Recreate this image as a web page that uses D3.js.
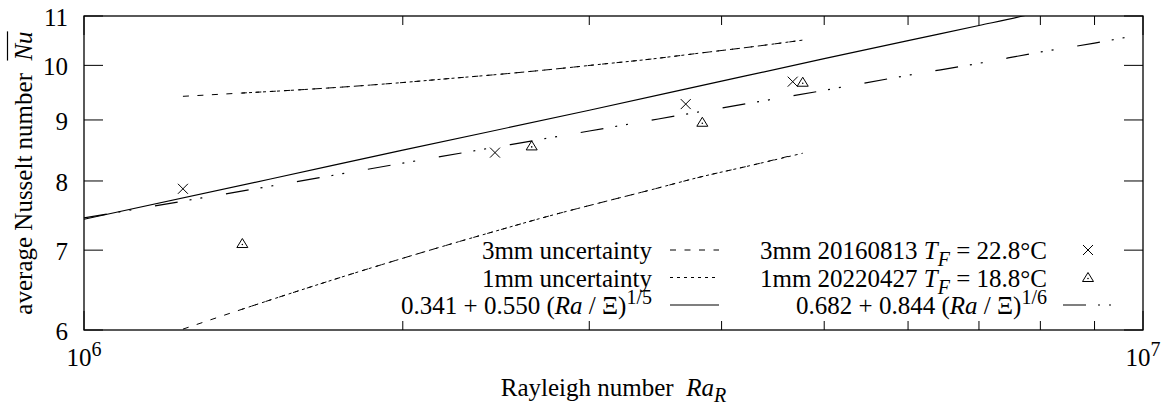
<!DOCTYPE html>
<html><head><meta charset="utf-8">
<script src="https://cdn.jsdelivr.net/npm/d3@7"></script>
<style>
body{margin:0;background:#fff}
svg{display:block}
text{font-family:"Liberation Serif","Times New Roman",serif;white-space:pre;fill:#000}
</style>
</head><body>
<svg id="c" width="1166" height="406"></svg>
<script>
// ---- data ----
const xDomain = [1e6, 1e7];
const yDomain = [6, 11];
const yTicks = [6, 7, 8, 9, 10, 11];
const xMajorTicks = [1e6, 1e7];
const xMajorExp = ["6", "7"];
const xMinorTicks = [2e6, 3e6, 4e6, 5e6, 6e6, 7e6, 8e6, 9e6];

// 3mm 20160813 measurements (x markers)
const ra3mm = [1.240e6, 2.444e6, 3.700e6, 4.669e6];
const nu3mm = [7.88, 8.45, 9.28, 9.69];
// 1mm 20220427 measurements (triangle markers)
const ra1mm = [1.411e6, 2.647e6, 3.836e6, 4.772e6];
const nu1mm = [7.09, 8.56, 8.96, 9.68];

// correlation 0.341 + 0.550 (Ra/Xi)^(1/5)
const fit5Ra = [1e6, 1.5e6, 2e6, 3e6, 4e6, 5e6, 6e6, 7e6, 7.7e6, 8e6];
const fit5Nu = [7.43, 8.03, 8.49, 9.17, 9.70, 10.13, 10.49, 10.80, 11.0, 11.09];
// correlation 0.682 + 0.844 (Ra/Xi)^(1/6)
const fit6Ra = [1e6, 1.5e6, 2e6, 3e6, 4e6, 5e6, 6e6, 7e6, 8e6, 9e6, 1e7];
const fit6Nu = [7.45, 7.92, 8.28, 8.81, 9.21, 9.53, 9.81, 10.04, 10.26, 10.44, 10.62];

// 3mm uncertainty band
const unc3UpRa = [1.240e6, 1.410e6, 1.600e6, 1.784e6, 1.988e6, 2.216e6, 2.471e6, 2.754e6, 3.071e6, 3.423e6, 3.816e6, 4.255e6, 4.70e6];
const unc3UpNu = [9.42, 9.48, 9.54, 9.60, 9.67, 9.75, 9.83, 9.92, 10.02, 10.12, 10.24, 10.36, 10.48];
const unc3LoRa = [1.240e6, 1.410e6, 1.600e6, 1.784e6, 1.988e6, 2.216e6, 2.471e6, 2.754e6, 3.071e6, 3.423e6, 3.816e6, 4.255e6, 4.70e6];
const unc3LoNu = [6.01, 6.245, 6.478, 6.68, 6.88, 7.08, 7.28, 7.48, 7.67, 7.86, 8.06, 8.24, 8.42];
// 1mm uncertainty band
const unc1UpRa = [1.410e6, 1.600e6, 1.784e6, 1.988e6, 2.216e6, 2.471e6, 2.754e6, 3.071e6, 3.423e6, 3.816e6, 4.255e6, 4.772e6];
const unc1UpNu = [9.48, 9.54, 9.60, 9.67, 9.75, 9.83, 9.92, 10.02, 10.12, 10.24, 10.36, 10.50];
const unc1LoRa = [1.410e6, 1.600e6, 1.784e6, 1.988e6, 2.216e6, 2.471e6, 2.754e6, 3.071e6, 3.423e6, 3.816e6, 4.255e6, 4.772e6];
const unc1LoNu = [6.245, 6.478, 6.68, 6.88, 7.08, 7.28, 7.48, 7.67, 7.86, 8.06, 8.24, 8.44];

// ---- layout ----
const L = 84, R = 1143, T = 16, B = 330;
const FS = 25, SFS = 20;
const svg = d3.select("#c");
const x = d3.scaleLog().domain(xDomain).range([L, R]);
const y = d3.scaleLog().domain(yDomain).range([B, T]);

svg.append("defs").append("clipPath").attr("id", "clip")
  .append("rect").attr("x", L).attr("y", T).attr("width", R - L).attr("height", B - T);

function rich(g, px, py, parts, anchor, subShift) {
  const t = g.append("text").attr("x", px).attr("y", py)
    .attr("text-anchor", anchor).attr("font-size", FS);
  let cur = 0;
  parts.forEach(p => {
    const shift = p.sub ? (subShift || 7) : p.sup ? -10 : 0;
    const ts = t.append("tspan").text(p.t).attr("dy", shift - cur);
    cur = shift;
    if (p.i) ts.attr("font-style", "italic");
    if (p.sub || p.sup) ts.attr("font-size", SFS);
  });
  return t;
}

// ticks
const tk = svg.append("g").attr("stroke", "#000").attr("stroke-width", 1);
yTicks.forEach(v => {
  tk.append("line").attr("x1", L).attr("x2", L + 19).attr("y1", y(v)).attr("y2", y(v));
  tk.append("line").attr("x1", R - 19).attr("x2", R).attr("y1", y(v)).attr("y2", y(v));
});
xMinorTicks.forEach(v => {
  tk.append("line").attr("x1", x(v)).attr("x2", x(v)).attr("y1", B).attr("y2", B - 9);
  tk.append("line").attr("x1", x(v)).attr("x2", x(v)).attr("y1", T).attr("y2", T + 9);
});
xMajorTicks.forEach(v => {
  tk.append("line").attr("x1", x(v)).attr("x2", x(v)).attr("y1", B).attr("y2", B - 19);
  tk.append("line").attr("x1", x(v)).attr("x2", x(v)).attr("y1", T).attr("y2", T + 19);
});

// frame
svg.append("rect").attr("x", L).attr("y", T).attr("width", R - L).attr("height", B - T)
  .attr("fill", "none").attr("stroke", "#000").attr("stroke-width", 1.3);

// tick labels
yTicks.forEach(v => {
  svg.append("text").attr("x", 68).attr("y", y(v) + 10).attr("text-anchor", "end")
    .attr("font-size", FS).text(v);
});
xMajorTicks.forEach((v, i) => {
  rich(svg, x(v), 366, [{t: "10"}, {t: xMajorExp[i], sup: true}], "middle");
});

// curves
const plot = svg.append("g").attr("clip-path", "url(#clip)");
const line = d3.line().x(d => x(d[0])).y(d => y(d[1])).curve(d3.curveMonotoneX);
function curve(ra, nu, dash, w) {
  plot.append("path").datum(ra.map((r, i) => [r, nu[i]])).attr("d", line)
    .attr("fill", "none").attr("stroke", "#000").attr("stroke-width", w)
    .attr("stroke-dasharray", dash);
}
const DASH3 = "6,8.5", DASH1 = "3,4", DASHDD = "23,12,2,9,2,24";
curve(unc3UpRa, unc3UpNu, DASH3, 1);
curve(unc3LoRa, unc3LoNu, DASH3, 1);
curve(unc1UpRa, unc1UpNu, DASH1, 1);
curve(unc1LoRa, unc1LoNu, DASH1, 1);
curve(fit5Ra, fit5Nu, null, 1.2);
curve(fit6Ra, fit6Nu, DASHDD, 1.2);

// markers
function cross(g, cx, cy) {
  const s = 5;
  g.append("path").attr("d", `M${cx - s},${cy - s}L${cx + s},${cy + s}M${cx - s},${cy + s}L${cx + s},${cy - s}`)
    .attr("stroke", "#000").attr("stroke-width", 1).attr("fill", "none");
}
function tri(g, cx, cy) {
  g.append("path").attr("d", `M${cx},${cy - 5}L${cx + 5.5},${cy + 4}L${cx - 5.5},${cy + 4}Z`)
    .attr("stroke", "#000").attr("stroke-width", 1).attr("fill", "none");
  g.append("circle").attr("cx", cx).attr("cy", cy + 1).attr("r", 0.8).attr("fill", "#000");
}
ra3mm.forEach((r, i) => cross(svg, x(r), y(nu3mm[i])));
ra1mm.forEach((r, i) => tri(svg, x(r), y(nu1mm[i])));

// legend
const lg = svg.append("g");
const rowY = [250, 277.5, 305];
const c1Text = 652, c1S0 = 670, c1S1 = 719;
const c2Text = 1047, c2S0 = 1063, c2S1 = 1113;
function sample(x0, x1, yy, dash) {
  lg.append("line").attr("x1", x0).attr("x2", x1).attr("y1", yy).attr("y2", yy)
    .attr("stroke", "#000").attr("stroke-width", 1.2).attr("stroke-dasharray", dash);
}
rich(lg, c1Text, rowY[0] + 9, [{t: "3mm uncertainty"}], "end");
sample(c1S0, c1S1, rowY[0], DASH3);
rich(lg, c1Text, rowY[1] + 9, [{t: "1mm uncertainty"}], "end");
sample(c1S0, c1S1, rowY[1], DASH1);
rich(lg, c1Text, rowY[2] + 9, [{t: "0.341 + 0.550 ("}, {t: "Ra", i: true}, {t: " / Ξ)"}, {t: "1/5", sup: true}], "end");
sample(c1S0, c1S1, rowY[2], null);

rich(lg, c2Text, rowY[0] + 9, [{t: "3mm 20160813 "}, {t: "T", i: true}, {t: "F", i: true, sub: true}, {t: " = 22.8°C"}], "end");
cross(lg, (c2S0 + c2S1) / 2, rowY[0]);
rich(lg, c2Text, rowY[1] + 9, [{t: "1mm 20220427 "}, {t: "T", i: true}, {t: "F", i: true, sub: true}, {t: " = 18.8°C"}], "end");
tri(lg, (c2S0 + c2S1) / 2, rowY[1]);
rich(lg, c2Text, rowY[2] + 9, [{t: "0.682 + 0.844 ("}, {t: "Ra", i: true}, {t: " / Ξ)"}, {t: "1/6", sup: true}], "end");
sample(c2S0, c2S1, rowY[2], DASHDD);

// axis labels
rich(svg, (L + R) / 2, 396, [{t: "Rayleigh number  "}, {t: "Ra", i: true}, {t: "R", i: true, sub: true}], "middle", 6);

const yl = svg.append("g").attr("transform", `translate(32,${(T + B) / 2}) rotate(-90)`);
const ylt = rich(yl, 0, 0, [{t: "average Nusselt number  "}, {t: "Nu", i: true}], "middle");
const n = ylt.node();
const nch = n.getNumberOfChars();
const sx = n.getStartPositionOfChar(nch - 2).x;
const ex = n.getEndPositionOfChar(nch - 1).x;
yl.append("line").attr("x1", sx).attr("x2", ex).attr("y1", -24.5).attr("y2", -24.5)
  .attr("stroke", "#000").attr("stroke-width", 1.2);
</script>
</body></html>
